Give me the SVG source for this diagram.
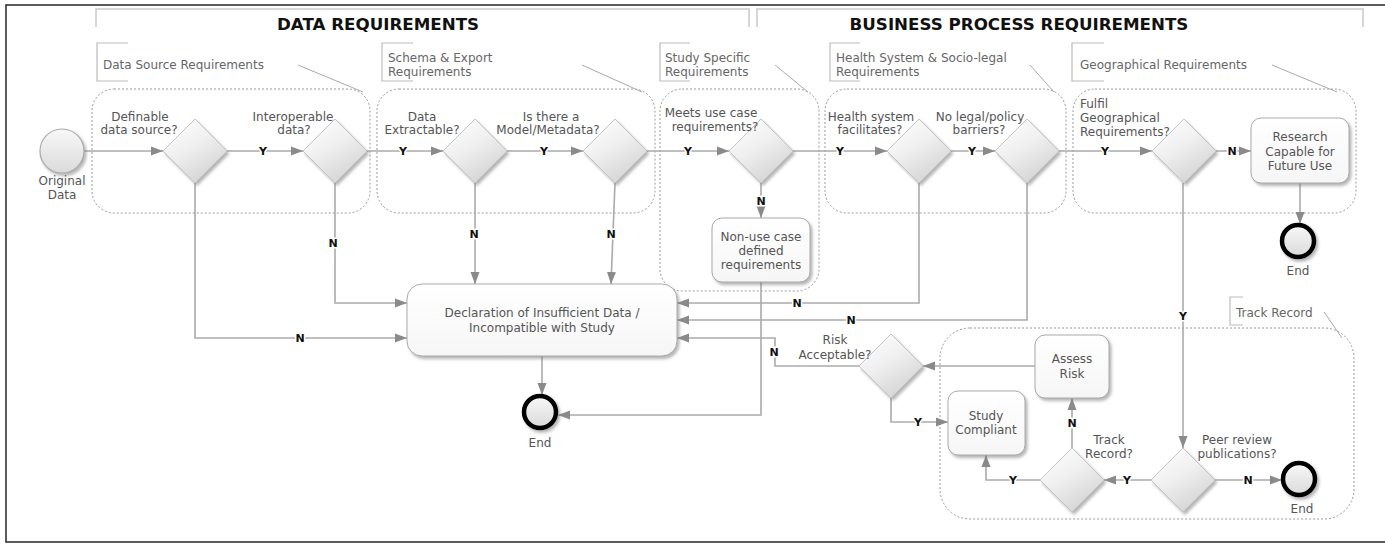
<svg xmlns="http://www.w3.org/2000/svg" width="1385" height="545" viewBox="0 0 1385 545">
<defs>
<style>
.frame{fill:#fff;stroke:#333;stroke-width:1.6}
.hdr{fill:none;stroke:#ccc;stroke-width:1.6}
.hdrt{font-family:"DejaVu Sans",Verdana,sans-serif;font-weight:bold;font-size:16.7px;fill:#111}
.lane{fill:none;stroke:#999;stroke-width:1;stroke-dasharray:2 2}
.ann{fill:none;stroke:#bbb;stroke-width:1.2}
.annl{fill:none;stroke:#aaa;stroke-width:1}
.annt{font-family:"DejaVu Sans",Verdana,sans-serif;font-size:12px;fill:#666}
.q{font-family:"DejaVu Sans",Verdana,sans-serif;font-size:12px;fill:#555;text-anchor:middle}
.ql{font-family:"DejaVu Sans",Verdana,sans-serif;font-size:12px;fill:#555}
.bt{font-family:"DejaVu Sans",Verdana,sans-serif;font-size:12px;fill:#555;text-anchor:middle}
.dia{fill:url(#gd);stroke:#c4c4c4;stroke-width:1;filter:url(#sh)}
.box{fill:url(#gb);stroke:#aaa;stroke-width:1;filter:url(#sh)}
.start{fill:url(#gs);stroke:#aaa;stroke-width:1.2;filter:url(#sh)}
.end{fill:url(#gs);stroke:#000;stroke-width:4.5;filter:url(#sh)}
.conn{fill:none;stroke:#aaa;stroke-width:1.6;marker-end:url(#ar)}
.yn{font-family:"DejaVu Sans",Verdana,sans-serif;font-weight:bold;font-size:11px;fill:#111;text-anchor:middle;stroke:#fff;stroke-width:3;paint-order:stroke}
</style>
<linearGradient id="gd" x1="0" y1="0" x2="0.6" y2="1">
<stop offset="0" stop-color="#ffffff"/>
<stop offset="0.5" stop-color="#f0f0f0"/>
<stop offset="1" stop-color="#d4d4d4"/>
</linearGradient>
<linearGradient id="gb" x1="0" y1="0" x2="0" y2="1">
<stop offset="0" stop-color="#ffffff"/>
<stop offset="1" stop-color="#f6f6f6"/>
</linearGradient>
<linearGradient id="gs" x1="0" y1="0" x2="0" y2="1">
<stop offset="0" stop-color="#f8f8f8"/>
<stop offset="1" stop-color="#dadada"/>
</linearGradient>
<filter id="sh" x="-20%" y="-20%" width="150%" height="150%">
<feDropShadow dx="2" dy="2.5" stdDeviation="1.5" flood-color="#777" flood-opacity="0.55"/>
</filter>
<marker id="ar" markerUnits="userSpaceOnUse" markerWidth="13" markerHeight="10" refX="12" refY="5" orient="auto">
<path d="M0,0.5 L12,5 L0,9.5 z" fill="#8a8a8a"/>
</marker>
</defs>

<rect class="frame" x="6" y="5" width="1390" height="537"/>

<g id="headers">
<path class="hdr" d="M96,27 V9 H749 V27"/>
<text class="hdrt" x="378" y="30" text-anchor="middle">DATA REQUIREMENTS</text>
<path class="hdr" d="M757,27 V9 H1363 V27"/>
<text class="hdrt" x="1019" y="30" text-anchor="middle">BUSINESS PROCESS REQUIREMENTS</text>
</g>

<g id="lanes">
<rect class="lane" x="92" y="89" width="278" height="124" rx="22"/>
<rect class="lane" x="377" y="89" width="278" height="124" rx="22"/>
<rect class="lane" x="660" y="89" width="159" height="202" rx="22"/>
<rect class="lane" x="825" y="89" width="241" height="124" rx="22"/>
<rect class="lane" x="1073" y="89" width="283" height="124" rx="22"/>
<rect class="lane" x="940" y="328" width="414" height="191" rx="30"/>
</g>

<g id="annotations">
<path class="ann" d="M128,43 H97 V81 H128"/>
<text class="annt" x="103" y="69">Data Source Requirements</text>
<path class="annl" d="M298,65 L363,92"/>
<path class="ann" d="M413,43 H382 V81 H413"/>
<text class="annt" x="388" y="62">Schema &amp; Export</text>
<text class="annt" x="388" y="76">Requirements</text>
<path class="annl" d="M582,65 L642,92"/>
<path class="ann" d="M690,43 H660 V81 H690"/>
<text class="annt" x="665" y="62">Study Specific</text>
<text class="annt" x="665" y="76">Requirements</text>
<path class="annl" d="M775,65 L808,92"/>
<path class="ann" d="M860,43 H830 V81 H860"/>
<text class="annt" x="836" y="62">Health System &amp; Socio-legal</text>
<text class="annt" x="836" y="76">Requirements</text>
<path class="annl" d="M1030,65 L1054,92"/>
<path class="ann" d="M1104,43 H1072 V81 H1104"/>
<text class="annt" x="1080" y="69">Geographical Requirements</text>
<path class="annl" d="M1272,65 L1337,92"/>
<path class="ann" d="M1243,297 H1230 V325 H1243"/>
<text class="annt" x="1236" y="317">Track Record</text>
<path class="annl" d="M1324,312 L1342,338"/>
</g>

<g id="connectors">
<path class="conn" d="M84,151 H163"/>
<path class="conn" d="M227,151 H303"/>
<path class="conn" d="M367,151 H443"/>
<path class="conn" d="M507,151 H583"/>
<path class="conn" d="M647,151 H729"/>
<path class="conn" d="M793,151 H887"/>
<path class="conn" d="M951,151 H995"/>
<path class="conn" d="M1059,151 H1152"/>
<path class="conn" d="M1215,151 H1251"/>
<path class="conn" d="M1300,183 V224"/>
<path class="conn" d="M195,183 V338 H407"/>
<path class="conn" d="M335,183 V303 H407"/>
<path class="conn" d="M475,183 V284"/>
<path class="conn" d="M615,183 L611,284"/>
<path class="conn" d="M761,183 V218"/>
<path class="conn" d="M761,282 V415 H558"/>
<path class="conn" d="M919,183 V303 H677"/>
<path class="conn" d="M1027,183 V320 H677"/>
<path class="conn" d="M859,366 H775 V338 H677"/>
<path class="conn" d="M542,356 V395"/>
<path class="conn" d="M891,398 V422 H948"/>
<path class="conn" d="M1035,366 H923"/>
<path class="conn" d="M1072,448 V398"/>
<path class="conn" d="M1040,480 H986 V455"/>
<path class="conn" d="M1151,480 H1104"/>
<path class="conn" d="M1183,183 V448"/>
<path class="conn" d="M1215,480 H1282"/>
<text class="yn" x="263" y="155">Y</text>
<text class="yn" x="403" y="155">Y</text>
<text class="yn" x="544" y="155">Y</text>
<text class="yn" x="688" y="155">Y</text>
<text class="yn" x="840" y="155">Y</text>
<text class="yn" x="972" y="155">Y</text>
<text class="yn" x="1105" y="155">Y</text>
<text class="yn" x="1232" y="155">N</text>
<text class="yn" x="300" y="342">N</text>
<text class="yn" x="333" y="247">N</text>
<text class="yn" x="474" y="238">N</text>
<text class="yn" x="611" y="238">N</text>
<text class="yn" x="761" y="205">N</text>
<text class="yn" x="797" y="307">N</text>
<text class="yn" x="851" y="324">N</text>
<text class="yn" x="774" y="356">N</text>
<text class="yn" x="918" y="426">Y</text>
<text class="yn" x="1072" y="427">N</text>
<text class="yn" x="1013" y="484">Y</text>
<text class="yn" x="1127" y="484">Y</text>
<text class="yn" x="1183" y="320">Y</text>
<text class="yn" x="1248" y="484">N</text>
</g>

<g id="start">
<circle class="start" cx="62" cy="151" r="22"/>
<text class="bt" x="62" y="185">Original</text>
<text class="bt" x="62" y="199">Data</text>
</g>

<g id="d-definable">
<polygon class="dia" points="163,151 195,119 227,151 195,183"/>
<text class="q" x="140" y="121">Definable</text>
<text class="q" x="139" y="134">data source?</text>
</g>
<g id="d-interoperable">
<polygon class="dia" points="303,151 335,119 367,151 335,183"/>
<text class="q" x="293" y="121">Interoperable</text>
<text class="q" x="294" y="134">data?</text>
</g>
<g id="d-extractable">
<polygon class="dia" points="443,151 475,119 507,151 475,183"/>
<text class="q" x="422" y="121">Data</text>
<text class="q" x="422" y="134">Extractable?</text>
</g>
<g id="d-model">
<polygon class="dia" points="583,151 615,119 647,151 615,183"/>
<text class="q" x="551" y="121">Is there a</text>
<text class="q" x="548" y="134">Model/Metadata?</text>
</g>
<g id="d-usecase">
<polygon class="dia" points="729,151 761,119 793,151 761,183"/>
<text class="q" x="711" y="117">Meets use case</text>
<text class="q" x="715" y="131">requirements?</text>
</g>
<g id="d-health">
<polygon class="dia" points="887,151 919,119 951,151 919,183"/>
<text class="q" x="871" y="121">Health system</text>
<text class="q" x="870" y="134">facilitates?</text>
</g>
<g id="d-legal">
<polygon class="dia" points="995,151 1027,119 1059,151 1027,183"/>
<text class="q" x="980" y="121">No legal/policy</text>
<text class="q" x="979" y="134">barriers?</text>
</g>
<g id="d-geo">
<polygon class="dia" points="1152,151 1184,119 1216,151 1184,183"/>
<text class="ql" x="1080" y="108">Fulfil</text>
<text class="ql" x="1080" y="122">Geographical</text>
<text class="ql" x="1080" y="136">Requirements?</text>
</g>

<g id="research">
<rect class="box" x="1251" y="118" width="98" height="65" rx="10"/>
<text class="bt" x="1300" y="141">Research</text>
<text class="bt" x="1300" y="156">Capable for</text>
<text class="bt" x="1300" y="170">Future Use</text>
</g>
<g id="end-research">
<circle class="end" cx="1298" cy="241" r="16"/>
<text class="bt" x="1298" y="275">End</text>
</g>

<g id="nonuse">
<rect class="box" x="712" y="218" width="98" height="64" rx="10"/>
<text class="bt" x="761" y="241">Non-use case</text>
<text class="bt" x="761" y="255">defined</text>
<text class="bt" x="761" y="269">requirements</text>
</g>

<g id="declaration">
<rect class="box" x="407" y="284" width="270" height="72" rx="15"/>
<text class="bt" x="542" y="317">Declaration of Insufficient Data /</text>
<text class="bt" x="542" y="332">Incompatible with Study</text>
</g>
<g id="end-main">
<circle class="end" cx="540" cy="412" r="16"/>
<text class="bt" x="540" y="447">End</text>
</g>

<g id="d-risk">
<polygon class="dia" points="859,366 891,334 923,366 891,398"/>
<text class="q" x="835" y="344">Risk</text>
<text class="q" x="835" y="359">Acceptable?</text>
</g>
<g id="assess">
<rect class="box" x="1035" y="335" width="74" height="63" rx="10"/>
<text class="bt" x="1072" y="363">Assess</text>
<text class="bt" x="1072" y="378">Risk</text>
</g>
<g id="compliant">
<rect class="box" x="948" y="391" width="77" height="64" rx="10"/>
<text class="bt" x="986" y="420">Study</text>
<text class="bt" x="986" y="434">Compliant</text>
</g>
<g id="d-track">
<polygon class="dia" points="1040,480 1072,448 1104,480 1072,512"/>
<text class="q" x="1109" y="444">Track</text>
<text class="q" x="1109" y="458">Record?</text>
</g>
<g id="d-peer">
<polygon class="dia" points="1151,480 1183,448 1215,480 1183,512"/>
<text class="q" x="1237" y="444">Peer review</text>
<text class="q" x="1237" y="458">publications?</text>
</g>
<g id="end-peer">
<circle class="end" cx="1299" cy="479" r="16"/>
<text class="bt" x="1302" y="513">End</text>
</g>
</svg>
